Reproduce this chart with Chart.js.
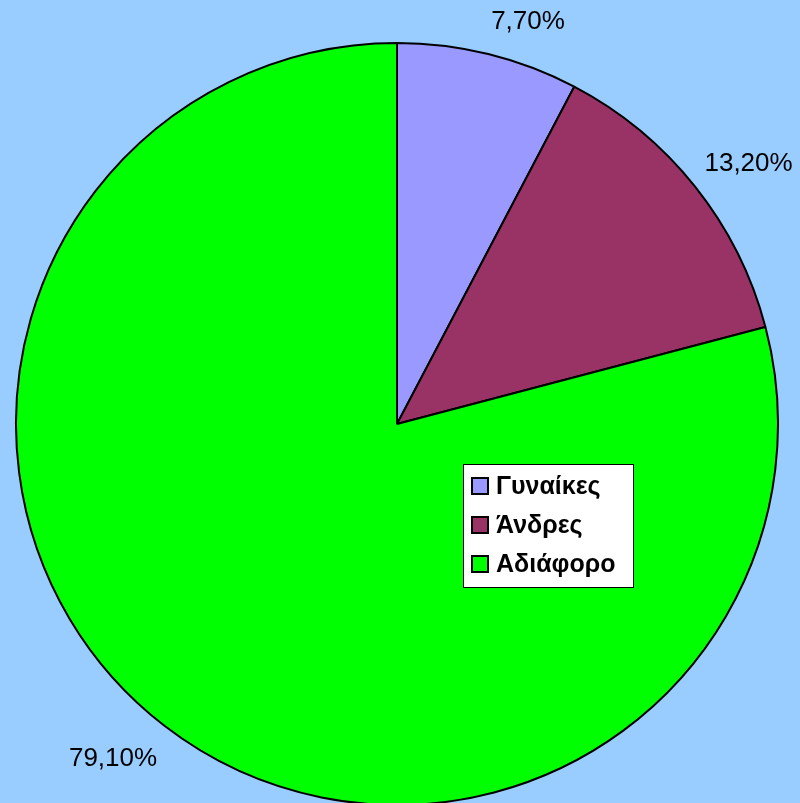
<!DOCTYPE html>
<html>
<head>
<meta charset="utf-8">
<script src="https://cdn.jsdelivr.net/npm/chart.js@4"></script>
<style>
  html, body { margin: 0; padding: 0; background: #99ccff; }
  #wrap { width: 800px; height: 803px; overflow: hidden; }
</style>
</head>
<body>
<div id="wrap"><canvas id="pie" width="800" height="803"></canvas></div>
<script>
  const categories = ['Γυναίκες', 'Άνδρες', 'Αδιάφορο'];
  const shares = [7.7, 13.2, 79.1];
  const shareLabels = ['7,70%', '13,20%', '79,10%'];
  const sliceColors = ['#9999ff', '#993366', '#00ff00'];

  // Etiquettes de pourcentage hors du camembert + légende encadrée
  const pieDecor = {
    id: 'pieDecor',
    afterDraw(chart) {
      const ctx = chart.ctx;
      const arcs = chart.getDatasetMeta(0).data;
      ctx.save();
      ctx.fillStyle = '#000';
      ctx.font = '26px "Liberation Sans", Arial, sans-serif';
      arcs.forEach((arc, i) => {
        const mid = (arc.startAngle + arc.endAngle) / 2;
        const dx = Math.cos(mid), dy = Math.sin(mid);
        const x = arc.x + dx * (arc.outerRadius + 12);
        const y = arc.y + dy * (arc.outerRadius + 28);
        ctx.textAlign = dx >= 0 ? 'left' : 'right';
        ctx.textBaseline = dy < 0 ? 'alphabetic' : 'top';
        ctx.fillText(shareLabels[i], x, dy < 0 ? y + 2 : y - 2);
      });

      // légende
      const lx = 463, ly = 464, lw = 170, lh = 123;
      ctx.fillStyle = '#fff';
      ctx.fillRect(lx, ly, lw, lh);
      ctx.strokeStyle = '#000';
      ctx.lineWidth = 1;
      ctx.strokeRect(lx + 0.5, ly + 0.5, lw, lh);
      ctx.font = 'bold 25px "Liberation Sans", Arial, sans-serif';
      ctx.textAlign = 'left';
      ctx.textBaseline = 'middle';
      categories.forEach((name, i) => {
        const cy = ly + 22 + i * 39;
        ctx.fillStyle = sliceColors[i];
        ctx.fillRect(lx + 9, cy - 8, 16, 16);
        ctx.lineWidth = 2;
        ctx.strokeRect(lx + 9, cy - 8, 16, 16);
        ctx.fillStyle = '#000';
        ctx.fillText(name, lx + 33, cy + 1);
      });
      ctx.restore();
    }
  };

  new Chart(document.getElementById('pie'), {
    type: 'pie',
    data: {
      labels: categories,
      datasets: [{
        data: shares,
        backgroundColor: sliceColors,
        borderColor: '#000',
        borderWidth: 2,
        hoverOffset: 0
      }]
    },
    options: {
      responsive: false,
      animation: false,
      radius: 381,
      layout: { padding: { left: 16, right: 22, top: 45, bottom: 0 } },
      plugins: {
        legend: { display: false },
        tooltip: { enabled: false }
      }
    },
    plugins: [pieDecor]
  });
</script>
</body>
</html>
